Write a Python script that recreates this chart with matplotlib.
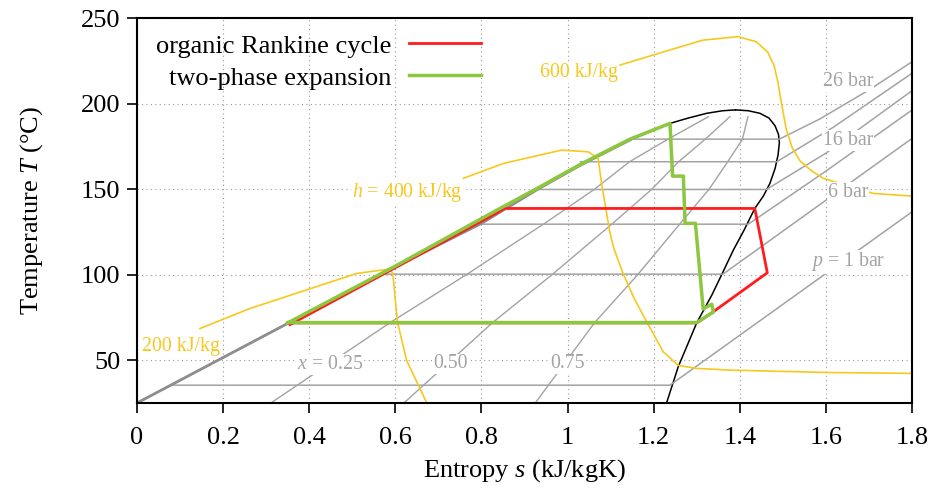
import matplotlib
matplotlib.use("Agg")
import matplotlib.pyplot as plt
from matplotlib.ticker import FuncFormatter, MultipleLocator

plt.rcParams['font.family'] = ['Liberation Serif', 'DejaVu Serif']
plt.rcParams['mathtext.fontset'] = 'custom'
plt.rcParams['mathtext.rm'] = 'Liberation Serif'
plt.rcParams['mathtext.it'] = 'Liberation Serif:italic'

# ---------------------------------------------------------------------------
# data (s in kJ/kgK, T in degC)
# ---------------------------------------------------------------------------
# saturation dome
liq_s = [0.0, 0.35, 0.60, 0.80, 0.93, 1.03, 1.145, 1.238, 1.28, 1.323, 1.36, 1.39]
liq_T = [25.0, 71.5, 104.6, 130.0, 149.8, 164.0, 178.7, 188.4, 191.5, 194.3, 195.8, 196.3]
vap_s = [1.39, 1.42, 1.447, 1.468, 1.482, 1.49, 1.492, 1.489, 1.482, 1.47, 1.455,
         1.435, 1.41, 1.385, 1.36, 1.335, 1.30, 1.257, 1.23]
vap_T = [196.3, 195.8, 194.3, 191.5, 187.0, 182.0, 177.0, 170.0, 162.0, 153.3, 146.0,
         138.7, 126.0, 114.3, 101.0, 88.0, 71.8, 46.1, 25.0]

# isobars: two-phase part -> superheated part
# (the compressed-liquid parts lie on the liquid line, drawn once below)
p1_s = [0.078, 1.238, 1.8]
p1_T = [35.4, 35.4, 136.7]
p6_s = [0.566, 1.361, 1.8]
p6_T = [100.3, 100.3, 179.6]
p11_s = [0.79, 1.42, 1.60, 1.8]
p11_T = [129.5, 129.5, 160.5, 196.2]
p16_s = [0.93, 1.462, 1.60, 1.8]
p16_T = [149.8, 149.8, 171.0, 207.5]
p21_s = [1.03, 1.486, 1.617, 1.8]
p21_T = [166.0, 166.0, 186.1, 217.7]
p26_s = [1.145, 1.492, 1.586, 1.70, 1.8]
p26_T = [179.2, 179.2, 191.0, 207.9, 224.4]

# lines of constant vapour quality
qual_T = [25.0, 72.0, 100.0, 130.0, 150.0, 166.0, 179.0, 192.3]
x025_s = [0.311, 0.588, 0.765, 0.947, 1.063, 1.144, 1.232, 1.327]
x050_s = [0.620, 0.826, 0.964, 1.105, 1.196, 1.258, 1.319, 1.377]
x075_s = [0.925, 1.063, 1.163, 1.262, 1.329, 1.372, 1.406, 1.419]

# isenthalps
h200_s = [0.146, 0.262, 0.51, 0.585, 0.594, 0.60, 0.605, 0.626, 0.673]
h200_T = [68.5, 80.2, 100.7, 103.2, 101.0, 85.0, 72.4, 50.0, 25.0]
h400_s = [0.758, 0.851, 0.986, 1.048, 1.071, 1.079, 1.088, 1.098, 1.108, 1.129, 1.155,
          1.184, 1.222, 1.257, 1.30, 1.377, 1.609, 1.8]
h400_T = [156.3, 165.0, 172.8, 171.8, 168.0, 153.3, 140.0, 125.0, 115.0, 100.7, 86.0,
          72.4, 55.0, 47.0, 45.2, 44.2, 42.8, 42.3]
h600_s = [1.122, 1.22, 1.315, 1.396, 1.439, 1.465, 1.48, 1.489, 1.497, 1.508, 1.522,
          1.54, 1.565, 1.594, 1.71, 1.8]
h600_T = [222.5, 230.0, 237.1, 239.1, 236.1, 230.0, 222.0, 212.0, 200.0, 185.0, 174.0,
          166.5, 161.0, 156.3, 147.5, 145.9]

# cycles
orc_s = [0.355, 0.835, 0.853, 1.435, 1.464, 1.338, 1.30, 0.355]
orc_T = [70.8, 136.0, 138.7, 138.7, 101.1, 78.2, 71.8, 71.8]
tpe_s = [0.35, 0.60, 0.835, 0.93, 1.03, 1.145, 1.238, 1.244, 1.269, 1.273, 1.297,
         1.315, 1.335, 1.339, 1.30, 0.35]
tpe_T = [71.8, 105.0, 137.6, 150.5, 164.5, 179.2, 188.4, 157.6, 157.6, 130.0, 130.0,
         80.0, 82.7, 78.2, 72.0, 72.0]

GRAY = '#a3a3a3'
YELLOW = '#f7c81e'
RED = '#ff1c1c'
GREEN = '#8dc63f'

fig = plt.figure(figsize=(9.34, 4.95), dpi=100)
ax = fig.add_axes([0.1467, 0.1859, 0.8297, 0.7777])

ax.plot(liq_s, liq_T, color='black', lw=1.1, zorder=2)
ax.plot(vap_s, vap_T, color='black', lw=1.1, zorder=2)
# compressed-liquid parts of all isobars, on top of the liquid line
ax.plot(liq_s[:7], liq_T[:7], color='#8e8e8e', lw=2.0, zorder=2.3)

for s, T in [(p1_s, p1_T), (p6_s, p6_T), (p11_s, p11_T),
             (p16_s, p16_T), (p21_s, p21_T), (p26_s, p26_T)]:
    ax.plot(s, T, color=GRAY, lw=1.1, zorder=2.2)
for s in [x025_s, x050_s, x075_s]:
    ax.plot(s, qual_T, color=GRAY, lw=1.0, zorder=2.2)

for s, T in [(h200_s, h200_T), (h400_s, h400_T), (h600_s, h600_T)]:
    ax.plot(s, T, color=YELLOW, lw=1.2, zorder=2.5)

ax.plot(orc_s, orc_T, color=RED, lw=2.0, zorder=4, label='organic Rankine cycle')
ax.plot(tpe_s, tpe_T, color=GREEN, lw=2.5, zorder=5, label='two-phase expansion')

# labels on the lines
box = dict(facecolor='white', edgecolor='none', pad=0.5)
small = 14.3
for x, y, txt in [(0.449, 47.5, r'$x$ = 0.25'), (0.728, 48.0, '0.50'), (1.001, 48.0, '0.75'),
                  (1.651, 107.6, r'$p$ = 1 bar'), (1.651, 148.0, '6 bar'),
                  (1.651, 178.4, '16 bar'), (1.651, 212.9, '26 bar')]:
    ax.text(x, y, txt, color=GRAY, fontsize=small, ha='center', va='center',
            bbox=box, zorder=6)
for x, y, txt in [(0.103, 57.9, '200 kJ/kg'), (0.628, 148.2, r'$h$ = 400 kJ/kg'),
                  (1.026, 218.1, '600 kJ/kg')]:
    ax.text(x, y, txt, color=YELLOW, fontsize=small, ha='center', va='center',
            bbox=box, zorder=6)

ax.set_xlim(0, 1.8)
ax.set_ylim(25, 250)
ax.xaxis.set_major_locator(MultipleLocator(0.2))
ax.set_yticks([50, 100, 150, 200, 250])
ax.xaxis.set_major_formatter(FuncFormatter(lambda v, p: f'{v:g}'))
ax.grid(True, color='#9a9a9a', lw=0.8, linestyle=(0, (1, 3)), zorder=0)
ax.set_axisbelow(True)
ax.tick_params(direction='out', length=7, width=1.2, labelsize=19, top=False, right=False)
ax.tick_params(axis='x', pad=10)
ax.tick_params(axis='y', pad=5)
for sp in ax.spines.values():
    sp.set_linewidth(1.5)

ax.set_xlabel(r'Entropy $s$ (kJ/kgK)', fontsize=19, labelpad=6)
ax.set_ylabel(r'Temperature $T$ (°C)', fontsize=19, labelpad=26)

ax.legend(loc='upper left', bbox_to_anchor=(0.0245, 0.958), frameon=False,
          markerfirst=False, fontsize=19, handlelength=2.75, handletextpad=0.65,
          labelspacing=0.32, borderpad=0, borderaxespad=0)

fig.savefig('out.png', dpi=100)
